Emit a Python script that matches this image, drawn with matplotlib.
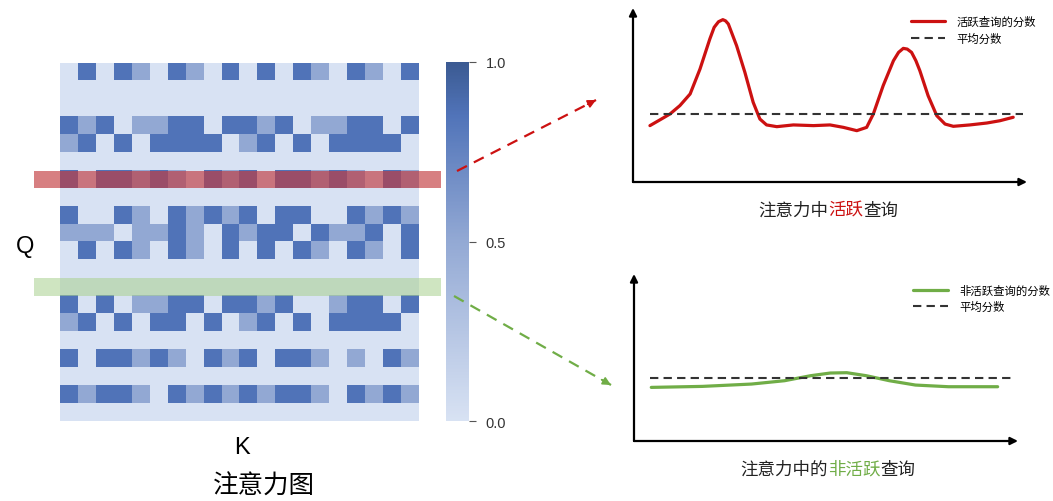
import numpy as np
import matplotlib.pyplot as plt
from matplotlib.colors import LinearSegmentedColormap

plt.rcParams['font.family'] = ['Noto Sans CJK SC', 'DejaVu Sans']

W, H = 1053, 502

# attention map: 0 = low, 1 = mid, 2 = high
level_values = [0.0, 0.5, 0.85]
attn_levels = [
    [0, 2, 0, 2, 1, 0, 2, 1, 0, 2, 0, 2, 0, 2, 1, 0, 2, 1, 0, 2],
    [0] * 20,
    [0] * 20,
    [2, 1, 2, 0, 1, 1, 2, 2, 0, 2, 2, 1, 2, 0, 1, 1, 2, 2, 0, 2],
    [1, 2, 0, 2, 0, 2, 2, 2, 2, 0, 1, 2, 0, 2, 0, 2, 2, 2, 2, 0],
    [0] * 20,
    [2, 0, 2, 2, 1, 2, 1, 0, 2, 1, 2, 0, 2, 2, 1, 2, 1, 0, 2, 1],
    [0] * 20,
    [2, 0, 0, 2, 1, 0, 2, 1, 2, 1, 2, 0, 2, 2, 0, 0, 2, 1, 2, 1],
    [1, 1, 1, 0, 1, 1, 2, 1, 0, 2, 1, 2, 2, 0, 2, 1, 1, 2, 0, 2],
    [0, 2, 0, 2, 1, 0, 2, 1, 0, 2, 0, 2, 0, 2, 1, 0, 2, 1, 0, 2],
    [0] * 20,
    [0] * 20,
    [2, 0, 2, 0, 1, 1, 2, 2, 0, 2, 2, 1, 2, 0, 0, 1, 2, 2, 0, 2],
    [1, 2, 0, 2, 0, 2, 2, 0, 2, 0, 1, 2, 0, 2, 0, 2, 2, 2, 2, 0],
    [0] * 20,
    [2, 0, 2, 2, 1, 2, 1, 0, 2, 1, 2, 0, 2, 2, 1, 0, 1, 0, 2, 1],
    [0] * 20,
    [2, 1, 2, 2, 1, 0, 2, 1, 2, 1, 2, 1, 2, 2, 1, 0, 2, 1, 2, 1],
    [0] * 20,
]
active_row = 6
lazy_row = 12
cbar_ticks = [0.0, 0.5, 1.0]
cbar_labels = ['0.0', '0.5', '1.0']

# score curves
active_x = [4.3, 6.9, 9.4, 11.9, 14.5, 17.0, 19.5, 20.6, 21.7, 22.8, 23.5, 24.2,
            26.3, 28.4, 30.5, 32.2, 33.9, 36.5, 40.7, 45.8, 50.0, 53.4, 56.8,
            59.3, 61.0, 63.5, 66.1, 67.4, 68.6, 69.6, 70.7, 71.8, 72.8, 74.9,
            77.1, 79.2, 81.3, 85.5, 89.8, 93.1, 96.5]
active_y = [32.4, 35.8, 39.1, 43.9, 50.6, 64.9, 82.2, 88.9, 92.1, 93.3, 92.6, 90.8,
            78.3, 63.0, 45.8, 36.2, 32.8, 31.8, 32.8, 32.4, 32.8, 31.4, 29.5,
            31.4, 39.1, 55.4, 69.7, 74.5, 76.8, 76.4, 74.5, 69.7, 64.0, 49.6,
            38.1, 33.3, 32.0, 32.8, 33.9, 35.2, 37.2]
active_mean = 39.1
active_mean_x = [4.3, 99.0]

lazy_x = [4.5, 17.8, 30.6, 39.2, 46.0, 51.1, 55.4, 60.5, 66.5, 73.3, 81.9, 94.7]
lazy_y = [32.1, 32.7, 34.1, 36.1, 39.1, 40.7, 40.9, 39.1, 36.1, 33.5, 32.5, 32.5]
lazy_mean = 37.7
lazy_mean_x = [4.1, 98.2]

RED = '#cc1111'
GREEN = '#70ad47'


def box(x0, y0, x1, y1):
    return [x0 / W, 1 - y1 / H, (x1 - x0) / W, (y1 - y0) / H]


fig = plt.figure(figsize=(W / 100, H / 100), dpi=100)

# heatmap
grid = np.array([[level_values[v] for v in row] for row in attn_levels])
cmap = LinearSegmentedColormap.from_list(
    'att', [(0, '#d8e2f3'), (0.5, '#93a9d4'), (0.85, '#5174b9'), (1, '#3b5a92')])
ax_hm = fig.add_axes(box(59.5, 64, 418, 422.5))
im = ax_hm.imshow(grid, cmap=cmap, vmin=0, vmax=1, aspect='auto',
                  interpolation='nearest')
ax_hm.axis('off')
ax_hm.axhspan(active_row - 0.5, active_row + 0.5, xmin=-0.07, xmax=1.064,
              color='#c23a3e', alpha=0.65, lw=0, clip_on=False)
ax_hm.axhspan(lazy_row - 0.5, lazy_row + 0.5, xmin=-0.07, xmax=1.064,
              color='#a9d18e', alpha=0.55, lw=0, clip_on=False)

cax = fig.add_axes(box(446, 63, 469, 422))
cb = fig.colorbar(im, cax=cax, ticks=cbar_ticks)
cb.ax.set_yticklabels(cbar_labels, family='Liberation Sans')
cb.outline.set_visible(False)
cax.tick_params(length=5, width=0.8, color='#555555', pad=7, labelsize=10.5,
                labelcolor='#333333')

fig.text(25 / W, 1 - 247 / H, 'Q', fontsize=17, family='Liberation Sans',
         ha='center', va='center')
fig.text(242 / W, 1 - 448 / H, 'K', fontsize=17, family='Liberation Sans',
         ha='center', va='center')
fig.text(264 / W, 1 - 487 / H, '注意力图', fontsize=18.4, ha='center', va='center')

# score plots
leg_kw = dict(loc='upper left', frameon=False, fontsize=8.2, handlelength=3.0,
              handletextpad=1.0, labelspacing=0.45, borderaxespad=0)

ax_a = fig.add_axes(box(633, 9, 1027, 183))
ax_a.plot(active_x, active_y, color=RED, lw=2.3, solid_capstyle='round',
          solid_joinstyle='round', label='活跃查询的分数')
ax_a.plot(active_mean_x, [active_mean] * 2, color='#333333', lw=1.5,
          dashes=(4, 2.5), label='平均分数')
ax_a.legend(bbox_to_anchor=(0.693, 0.98), **leg_kw)

ax_b = fig.add_axes(box(634, 275, 1018, 442))
ax_b.plot(lazy_x, lazy_y, color=GREEN, lw=2.3, solid_capstyle='round',
          solid_joinstyle='round', label='非活跃查询的分数')
ax_b.plot(lazy_mean_x, [lazy_mean] * 2, color='#333333', lw=1.5,
          dashes=(4, 2.5), label='平均分数')
ax_b.legend(bbox_to_anchor=(0.716, 0.965), **leg_kw)

for ax in (ax_a, ax_b):
    ax.set_xlim(0, 100)
    ax.set_ylim(0, 100)
    ax.set_xticks([])
    ax.set_yticks([])
    ax.patch.set_visible(False)
    for s in ax.spines.values():
        s.set_visible(False)
    for tip in [(0, 1), (1, 0)]:
        ax.annotate('', xy=tip, xytext=(0, 0), xycoords='axes fraction',
                    arrowprops=dict(arrowstyle='-|>', color='black', lw=1.6,
                                    mutation_scale=11, shrinkA=0, shrinkB=0))


def colored_title(parts, cx, cy, size=12.6):
    step = size * 100 / 72
    n = sum(len(s) for s, _ in parts)
    x = cx - n * step / 2
    for s, c in parts:
        fig.text(x / W, 1 - cy / H, s, fontsize=size, color=c, ha='left',
                 va='center')
        x += len(s) * step


colored_title([('注意力中', '#222222'), ('活跃', RED), ('查询', '#222222')], 828, 211)
colored_title([('注意力中的', '#222222'), ('非活跃', GREEN), ('查询', '#222222')], 828, 470)

# connector arrows
for (x0, y0), (x1, y1), c in [((457, 172), (596, 101), RED),
                              ((454, 297), (611, 386), GREEN)]:
    p0 = (x0, H - y0)
    p1 = (x1, H - y1)
    fig.add_artist(plt.Line2D([p0[0] / W, p1[0] / W], [p0[1] / H, p1[1] / H],
                              color=c, lw=1.6, dashes=(5, 3.5)))
    ax_hm.annotate('', xy=p1, xytext=(p1[0] - (p1[0] - p0[0]) * 0.06,
                                      p1[1] - (p1[1] - p0[1]) * 0.06),
                   xycoords='figure pixels', textcoords='figure pixels',
                   arrowprops=dict(arrowstyle='-|>', color=c, lw=1.2,
                                   mutation_scale=12, shrinkA=0, shrinkB=0),
                   annotation_clip=False)

fig.savefig('out.png', dpi=100)
